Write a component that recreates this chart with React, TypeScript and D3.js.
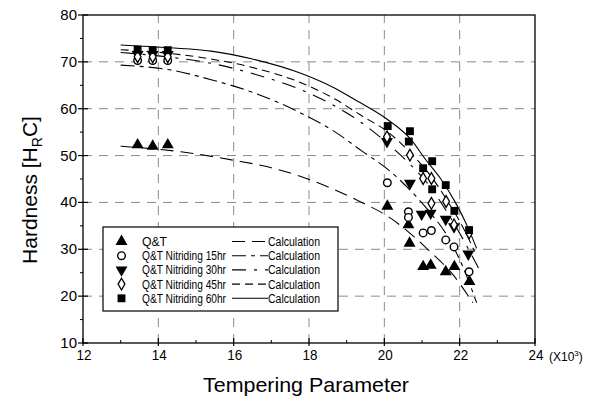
import React from "react";
import * as d3 from "d3";

type P = [number, number];

const xTicks = [12, 14, 16, 18, 20, 22, 24];
const yTicks = [10, 20, 30, 40, 50, 60, 70, 80];
const gridX = [14, 16, 18, 20, 22];
const gridY = [20, 30, 40, 50, 60, 70];

const seriesNames = [
  "Q&T",
  "Q&T Nitriding 15hr",
  "Q&T Nitriding 30hr",
  "Q&T Nitriding 45hr",
  "Q&T Nitriding 60hr",
];

const qtPts: P[] = [[13.45, 52.3], [13.85, 52.0], [14.25, 52.3], [20.08, 39.2], [20.64, 35.2], [20.67, 31.3], [21.03, 26.3], [21.23, 26.6], [21.63, 25.2], [21.86, 26.3], [22.26, 23.1]];
const n15Pts: P[] = [[13.45, 70.3], [13.85, 70.3], [14.25, 70.3], [20.08, 44.2], [20.64, 38.0], [20.64, 36.8], [21.03, 33.5], [21.25, 34.0], [21.63, 32.0], [21.85, 30.5], [22.25, 25.2]];
const n30Pts: P[] = [[13.45, 71.6], [13.85, 71.6], [14.25, 71.6], [20.07, 53.0], [20.68, 44.1], [20.99, 37.5], [21.23, 37.7], [21.63, 36.4], [21.85, 34.8], [22.23, 29.0]];
const n45Pts: P[] = [[13.45, 71.1], [13.85, 71.1], [14.25, 71.1], [20.07, 54.0], [20.68, 50.1], [21.03, 45.1], [21.25, 45.1], [21.25, 39.8], [21.64, 40.2], [21.85, 35.2], [22.25, 33.5]];
const n60Pts: P[] = [[13.45, 72.6], [13.85, 72.5], [14.25, 72.5], [20.09, 56.3], [20.68, 55.2], [20.65, 53.0], [21.03, 47.3], [21.27, 48.8], [21.27, 42.8], [21.63, 43.7], [21.86, 38.2], [22.25, 34.1]];

const calcQT: P[] = [[13.0, 52.0], [14.6, 50.8], [16.0, 49.0], [17.0, 47.4], [17.8, 45.5], [18.6, 43.0], [19.4, 40.0], [20.1, 37.0], [20.8, 32.6], [21.2, 29.6], [21.8, 24.8], [22.35, 18.6]];
const calc15: P[] = [[13.0, 69.3], [14.3, 68.3], [15.4, 66.2], [16.5, 63.5], [17.8, 59.0], [18.7, 55.0], [19.4, 51.0], [20.1, 47.0], [20.7, 42.5], [21.2, 38.0], [21.7, 32.5], [22.1, 26.0], [22.45, 18.6]];
const calc30: P[] = [[13.0, 72.0], [14.3, 71.0], [15.4, 69.7], [16.5, 67.5], [17.8, 64.0], [18.7, 60.5], [19.4, 57.0], [20.1, 52.5], [20.7, 48.0], [21.2, 43.5], [21.7, 37.5], [22.1, 32.0], [22.5, 26.0]];
const calc45: P[] = [[13.0, 72.6], [14.3, 71.8], [15.4, 70.6], [16.5, 68.8], [17.8, 65.5], [18.7, 62.0], [19.4, 58.5], [20.1, 55.0], [20.7, 50.5], [21.2, 46.0], [21.7, 40.0], [22.1, 34.5], [22.4, 29.5]];
const calc60: P[] = [[13.0, 73.6], [14.3, 73.0], [15.4, 72.3], [16.5, 70.6], [17.8, 67.5], [18.7, 64.3], [19.2, 62.0], [20.1, 57.6], [20.7, 53.5], [21.1, 49.1], [21.5, 45.0], [21.9, 39.8], [22.2, 35.0], [22.45, 30.2]];

const pointSets = [qtPts, n15Pts, n30Pts, n45Pts, n60Pts];
const calcSets = [calcQT, calc15, calc30, calc45, calc60];
const markerKinds = ["triUp", "circle", "triDown", "diamond", "square"];
const dashes = ["13,7", "14,5,4,5", "14,8,3,8", "8,5", ""];

const W = 592;
const H = 403;
const X0 = 83, X1 = 535, Y0 = 343, Y1 = 15;

function Marker({ kind, x, y }: { kind: string; x: number; y: number }) {
  if (kind === "circle") {
    return <circle cx={x} cy={y} r={3.8} fill="#fff" stroke="#000" strokeWidth={1.4} />;
  }
  if (kind === "square") {
    const p = d3.symbol().type(d3.symbolSquare).size(62)();
    return <path d={p || ""} transform={`translate(${x},${y})`} fill="#000" />;
  }
  if (kind === "diamond") {
    const p = d3.symbol().type(d3.symbolDiamond).size(40)();
    return <path d={p || ""} transform={`translate(${x},${y})`} fill="#fff" stroke="#000" strokeWidth={1.3} />;
  }
  const p = d3.symbol().type(d3.symbolTriangle).size(62)();
  const rot = kind === "triDown" ? 180 : 0;
  return <path d={p || ""} transform={`translate(${x},${y}) rotate(${rot})`} fill="#000" />;
}

export default function App() {
  const xs = d3.scaleLinear().domain([12, 24]).range([X0, X1]);
  const ys = d3.scaleLinear().domain([10, 80]).range([Y0, Y1]);
  const line = d3
    .line<P>()
    .x((d) => xs(d[0]))
    .y((d) => ys(d[1]))
    .curve(d3.curveMonotoneX);

  const minorX = d3.range(13, 24, 2);
  const minorY = d3.range(15, 80, 10);
  const font = "'Liberation Sans', Arial, sans-serif";

  const legX = 103, legY = 227, legW = 235, legH = 84;
  const rowY = (i: number) => 241.5 + i * 14.2;

  return (
    <div style={{ position: "fixed", left: 0, top: 0 }}>
      <svg width={W} height={H} style={{ display: "block", background: "#fff" }} fontFamily={font}>
        <rect x={0} y={0} width={W} height={H} fill="#fff" />
        {/* grid */}
        {gridX.map((v) => (
          <line key={"gx" + v} x1={xs(v)} x2={xs(v)} y1={Y0} y2={Y1} stroke="#8a8a8a" strokeWidth={1} strokeDasharray="9,7" />
        ))}
        {gridY.map((v) => (
          <line key={"gy" + v} x1={X0} x2={X1} y1={ys(v)} y2={ys(v)} stroke="#8a8a8a" strokeWidth={1} strokeDasharray="9,7" />
        ))}
        {/* frame */}
        <rect x={X0} y={Y1} width={X1 - X0} height={Y0 - Y1} fill="none" stroke="#000" strokeWidth={1.3} />
        {/* x ticks */}
        {xTicks.map((v) => (
          <g key={"xt" + v}>
            <line x1={xs(v)} x2={xs(v)} y1={Y0 + 3} y2={Y0 - 5} stroke="#000" strokeWidth={1.2} />
            <text x={xs(v) + 1} y={Y0 + 17} fontSize={15} textAnchor="middle" fill="#000" textLength={15} lengthAdjust="spacingAndGlyphs">{v}</text>
          </g>
        ))}
        {minorX.map((v) => (
          <line key={"xm" + v} x1={xs(v)} x2={xs(v)} y1={Y0} y2={Y0 - 3} stroke="#000" strokeWidth={1} />
        ))}
        <text x={549} y={Y0 + 18} fontSize={12} fill="#000">
          (X10<tspan dy={-5} fontSize={8}>3</tspan><tspan dy={5}>)</tspan>
        </text>
        {/* y ticks */}
        {yTicks.map((v) => (
          <g key={"yt" + v}>
            <line x1={X0 - 5} x2={X0 + 5} y1={ys(v)} y2={ys(v)} stroke="#000" strokeWidth={1.2} />
            <text x={X0 - 6} y={ys(v) + 5} fontSize={15} textAnchor="end" fill="#000">{v}</text>
          </g>
        ))}
        {minorY.map((v) => (
          <line key={"ym" + v} x1={X0 - 3} x2={X0} y1={ys(v)} y2={ys(v)} stroke="#000" strokeWidth={1} />
        ))}
        {/* axis titles */}
        <text x={306} y={392} fontSize={21} textAnchor="middle" fill="#000" textLength={206} lengthAdjust="spacingAndGlyphs">
          Tempering Parameter
        </text>
        <text transform="translate(37,190) rotate(-90)" fontSize={21} textAnchor="middle" fill="#000">
          Hardness [H<tspan dy={5} fontSize={14}>R</tspan><tspan dy={-5}>C]</tspan>
        </text>
        {/* calc curves */}
        {calcSets.map((c, i) => (
          <path key={"c" + i} d={line(c) || ""} fill="none" stroke="#000" strokeWidth={1.1} strokeDasharray={dashes[i]} />
        ))}
        {/* points */}
        {pointSets.map((s, i) =>
          s.map((d, j) => <Marker key={`p${i}-${j}`} kind={markerKinds[i]} x={xs(d[0])} y={ys(d[1])} />)
        )}
        {/* legend */}
        <rect x={legX} y={legY} width={legW} height={legH} fill="#fff" stroke="#000" strokeWidth={1.2} />
        {seriesNames.map((n, i) => {
          const y = rowY(i);
          const tl = i === 0 ? 25 : 84;
          return (
            <g key={"l" + i}>
              <Marker kind={markerKinds[i]} x={121.5} y={y} />
              <text x={142} y={y + 4.5} fontSize={12.5} fill="#000" textLength={tl} lengthAdjust="spacingAndGlyphs">{n}</text>
              <line x1={232} x2={268} y1={y} y2={y} stroke="#000" strokeWidth={1.1} strokeDasharray={dashes[i]} />
              <text x={268} y={y + 4.5} fontSize={12.5} fill="#000" textLength={52} lengthAdjust="spacingAndGlyphs">Calculation</text>
            </g>
          );
        })}
      </svg>
    </div>
  );
}
